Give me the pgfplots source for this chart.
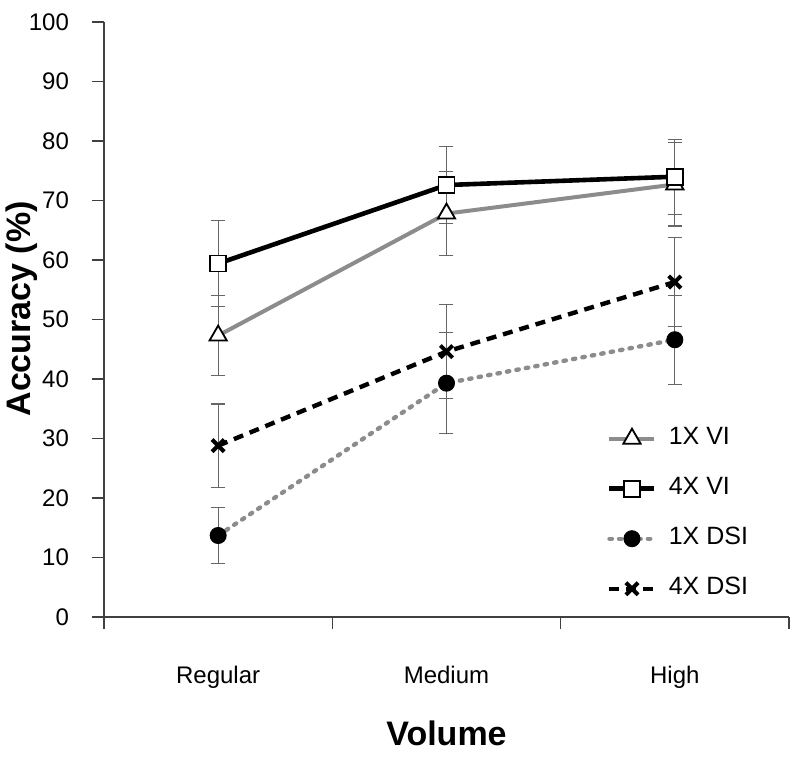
\documentclass[border=0pt]{standalone}
\usepackage{pgfplots}
\pgfplotsset{compat=1.18}
\usepackage{fontspec}
\setmainfont{Liberation Sans}
\definecolor{lgray}{gray}{0.55}
\definecolor{axgray}{gray}{0.25}
\definecolor{errgray}{gray}{0.4}
\begin{document}
\begin{tikzpicture}
\useasboundingbox (-52pt,-70pt) rectangle (348pt,308.5pt);
\begin{axis}[
  scale only axis,
  width=342.5pt, height=297.5pt,
  xmin=0.5, xmax=3.5, ymin=0, ymax=100,
  axis lines=left,
  axis line style={-, axgray, line width=0.8pt},
  every tick/.style={axgray, line width=0.8pt},
  tick align=outside,
  xtick={1,2,3},
  xticklabels={Regular,Medium,High},
  major x tick style={draw=none},
  minor xtick={0.5,1.5,2.5,3.5},
  minor tick length=6pt,
  major tick length=6pt,
  ytick={0,10,...,100},
  /pgf/number format/assume math mode=true,
  tick label style={font=\fontsize{12}{14}\selectfont},
  xticklabel style={yshift=-15pt},
  yticklabel style={xshift=-8pt},
  xlabel={Volume},
  ylabel={Accuracy (\%)},
  label style={font=\fontsize{17}{20}\selectfont\bfseries},
  xlabel style={at={(axis description cs:0.5,0)}, anchor=center, yshift=-58pt},
  ylabel style={at={(axis description cs:-0.1197,0.518)}, anchor=center},
  legend style={draw=none, fill=none, at={(0.734,0.3205)}, anchor=north west,
    inner sep=0pt,
    font=\fontsize{12.5}{15}\selectfont, row sep=13pt, column sep=6pt,
    nodes={inner sep=0pt, text height=9pt, text depth=3pt}},
  legend cell align=left,
  legend image code/.code={\draw[mark repeat=2,mark phase=2,#1] plot coordinates {(0pt,0pt) (11.25pt,0pt) (22.5pt,0pt)};},
  error bars/error bar style={line width=0.6pt, errgray, solid},
  error bars/error mark options={line width=0.6pt, errgray, solid, mark size=3.5pt, rotate=90},
  clip=false,
]
% 1X VI
\addplot[lgray, line width=2pt, mark=triangle*, mark size=5pt,
  mark options={fill=white, draw=black, line width=0.9pt, solid},
  error bars/.cd, y dir=both, y explicit]
  table[x=x, y=y, y error=e] {
x y e
1 47.3 6.7
2 67.8 7.1
3 72.7 7.0
};
\addlegendentry{1X VI}
% 4X VI
\addplot[black, line width=2.3pt, mark=square*, mark size=4pt,
  mark options={fill=white, draw=black, line width=0.9pt, solid},
  error bars/.cd, y dir=both, y explicit]
  table[x=x, y=y, y error=e] {
x y e
1 59.4 7.2
2 72.6 6.5
3 74.0 6.3
};
\addlegendentry{4X VI}
% 1X DSI
\addplot[lgray, line width=2.2pt, line cap=round, dash pattern=on 1.2pt off 3.6pt,
  mark=*, mark size=4pt, mark options={fill=black, draw=black, solid, line width=0.5pt},
  error bars/.cd, y dir=both, y explicit]
  table[x=x, y=y, y error=e] {
x y e
1 13.7 4.7
2 39.3 8.5
3 46.6 7.5
};
\addlegendentry{1X DSI}
% 4X DSI
\addplot[black, line width=2.2pt, dash pattern=on 5pt off 3.5pt,
  mark=x, mark size=4.3pt, mark options={draw=black, solid, line width=2pt},
  error bars/.cd, y dir=both, y explicit]
  table[x=x, y=y, y error=e] {
x y e
1 28.8 7.0
2 44.6 7.9
3 56.3 7.5
};
\addlegendentry{4X DSI}
\end{axis}
\end{tikzpicture}
\end{document}
